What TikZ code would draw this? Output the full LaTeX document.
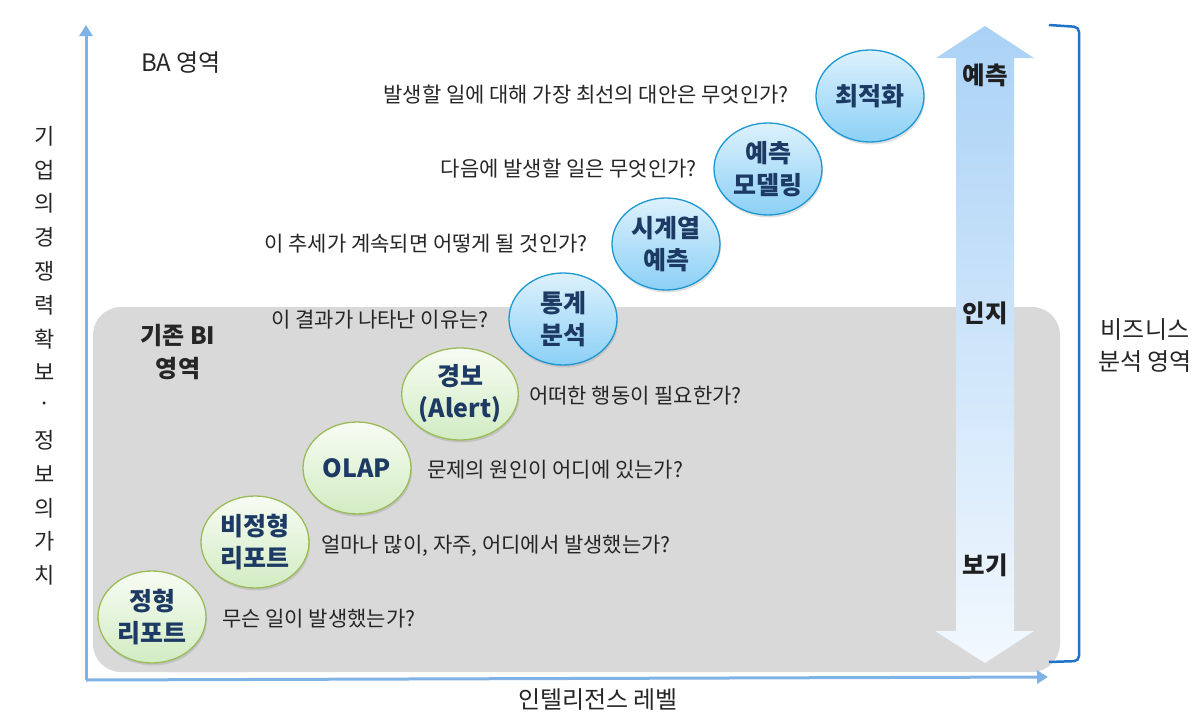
\documentclass[tikz,border=0pt]{standalone}
\usepackage{fontspec}
\setmainfont{Noto Sans CJK KR}
\usetikzlibrary{shapes.geometric,shadows,arrows.meta}
\definecolor{bgray}{HTML}{D9D9D9}
\definecolor{axisblue}{HTML}{7FB2E5}
\definecolor{brkblue}{HTML}{1F74C8}
\definecolor{arrtop}{HTML}{AAD2F6}
\definecolor{arrmid}{HTML}{88BFF2}
\definecolor{arrbot}{HTML}{F2F8FE}
\definecolor{navy}{HTML}{1C3A63}
\definecolor{qtext}{HTML}{262626}
\definecolor{bltop}{HTML}{DDF1FC}
\definecolor{blbot}{HTML}{8CD0F6}
\definecolor{blline}{HTML}{1B97D4}
\definecolor{grtop}{HTML}{F7FCF3}
\definecolor{grbot}{HTML}{D2ECC3}
\definecolor{grline}{HTML}{9BBB59}
\tikzset{
  ellbase/.style={ellipse, minimum width=108, minimum height=92, inner sep=0pt, align=center,
    font=\fontsize{25}{32}\selectfont\bfseries, text=navy, line width=1.3pt,
    drop shadow={opacity=0.25, shadow xshift=1pt, shadow yshift=-2.5pt}},
  blueell/.style={ellbase, draw=blline, top color=bltop, bottom color=blbot},
  greenell/.style={ellbase, draw=grline, top color=grtop, bottom color=grbot},
  q/.style={font=\fontsize{21}{24}\selectfont, text=qtext, inner sep=0pt},
  axisline/.style={draw=axisblue, line width=3pt, -{Triangle[width=13pt,length=11pt]}},
  lvl/.style={font=\fontsize{24.5}{28}\selectfont\bfseries, text=black!88},
  lbl/.style={font=\fontsize{24}{32}\selectfont, text=qtext, align=center},
}
\begin{document}
\begin{tikzpicture}[x=1pt,y=-1pt]
\useasboundingbox (0,0) rectangle (1200,720);
% gray BI area
\fill[bgray, rounded corners=28pt] (93,307) rectangle (1060,672);
% axes
\coordinate (o) at (86,680);
\coordinate (ytop) at (86,25);
\coordinate (xend) at (1048,677);
\draw[axisline] (o) -- (ytop);
\draw[axisline] (o) -- (xend);
% big double arrow
\shade[top color=arrtop, middle color=arrmid, bottom color=arrbot]
  (985,26) -- (1034,58) -- (1014,58) -- (1014,631) -- (1034,631) -- (985,663)
  -- (935,631) -- (956,631) -- (956,58) -- (936,58) -- cycle;
\node[lvl] (l1) at (985,75) {예측};
\node[lvl] (l2) at (985,313) {인지};
\node[lvl] (l3) at (985,565) {보기};
% bracket
\draw[brkblue, line width=2.5pt, rounded corners=5pt] (1049,25) -- (1079,27) -- (1079,661) -- (1049,662);
\node[lbl] (biz) at (1145,346) {비즈니스\\분석 영역};
% left vertical label
\foreach \c [count=\i from 0] in {기,업,의,경,쟁,력,확,보,·,정,보,의,가,치}
  \node[font=\fontsize{22}{24}\selectfont, text=qtext] (v\i) at (45,{136+33.8*\i}) {\c};
% bottom label
\node[font=\fontsize{24}{28}\selectfont, text=qtext] (xl) at (598,700) {인텔리전스 레벨};
% area labels
\node[font=\fontsize{24}{28}\selectfont, text=qtext] (ba) at (181,63) {BA 영역};
\node[font=\fontsize{24}{33}\selectfont\bfseries, text=qtext, align=center] (bi) at (178,352) {기존 BI\\영역};
% ellipses
\node[greenell] (e1) at (152,617) {정형\\리포트};
\node[greenell] (e2) at (255,542) {비정형\\리포트};
\node[greenell] (e3) at (357,468) {OLAP};
\node[greenell] (e4) at (460,394) {경보\\(Alert)};
\node[blueell] (e5) at (563,319) {통계\\분석};
\node[blueell] (e6) at (666,244) {시계열\\예측};
\node[blueell] (e7) at (768,169) {예측\\모델링};
\node[blueell] (e8) at (870,96) {최적화};
% questions
\node[q, anchor=west] (q1) at (222,619) {무슨 일이 발생했는가?};
\node[q, anchor=west] (q2) at (321,546) {얼마나 많이, 자주, 어디에서 발생했는가?};
\node[q, anchor=west] (q3) at (427,470) {문제의 원인이 어디에 있는가?};
\node[q, anchor=west] (q4) at (529,396) {어떠한 행동이 필요한가?};
\node[q, anchor=east] (q5) at (489,320) {이 결과가 나타난 이유는?};
\node[q, anchor=east] (q6) at (588,244) {이 추세가 계속되면 어떻게 될 것인가?};
\node[q, anchor=east] (q7) at (697,169) {다음에 발생할 일은 무엇인가?};
\node[q, anchor=east] (q8) at (789,95) {발생할 일에 대해 가장 최선의 대안은 무엇인가?};
\end{tikzpicture}
\end{document}
